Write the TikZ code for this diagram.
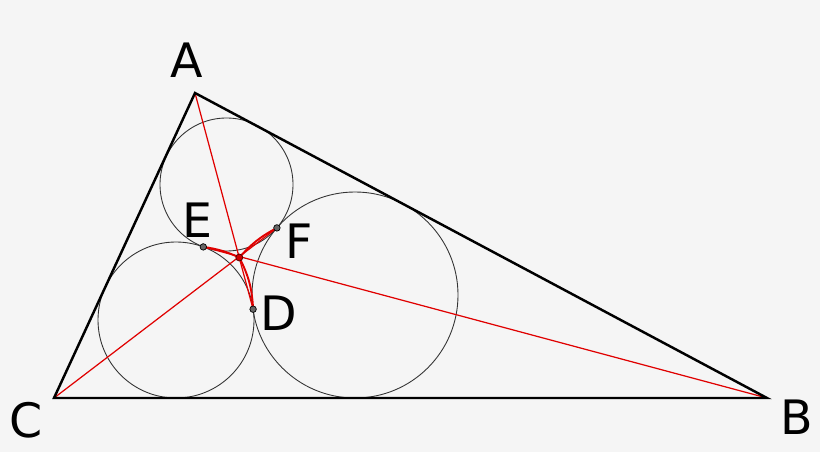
\documentclass[tikz,border=0pt]{standalone}
\usepackage{fontspec}
\setmainfont{DejaVu Sans}
\definecolor{paper}{HTML}{F5F5F5}
\definecolor{redline}{HTML}{E00000}
\definecolor{reddot}{HTML}{D00000}
\begin{document}
\begin{tikzpicture}[x=0.02cm, y=-0.02cm,
    side/.style = {draw, line width=1.4pt, line join=miter},
    malfatti/.style = {draw=black!80, line width=0.5pt},
    cevian/.style = {draw=redline, line width=0.7pt},
    arcline/.style = {draw=redline, line width=1.1pt},
    touch/.style = {circle, draw, fill=black!60, line width=0.4pt, inner sep=0pt, minimum size=0.13cm},
    meet/.style = {circle, draw=black!70!red, fill=reddot, line width=0.4pt, inner sep=0pt, minimum size=0.14cm},
    letter/.style = {inner sep=0pt, font=\fontsize{27}{30}\selectfont}]
    \fill[paper] (0,0) rectangle (820,452);

    \coordinate (A) at (195,93);
    \coordinate (B) at (767,398);
    \coordinate (C) at (54,398);
    \coordinate (O1) at (226.5,184.5);
    \coordinate (O2) at (176,320);
    \coordinate (O3) at (355,295);
    \coordinate (D) at (253.1,309.2);
    \coordinate (E) at (203.3,246.9);
    \coordinate (F) at (276.9,227.9);
    \coordinate (P) at (239.3,257.5);

    % the three circles
    \draw[malfatti] (O1) circle[radius=66.5];
    \draw[malfatti] (O2) circle[radius=78];
    \draw[malfatti] (O3) circle[radius=103];

    \draw[cevian] (A) -- (D);
    \draw[cevian] (B) -- (E);
    \draw[cevian] (C) -- (F);

    \draw[side] (A) -- (B) -- (C) -- cycle;

    \draw[arcline] (D) to[bend right=12] (P);
    \draw[arcline] (F) to[bend right=10] (P);
    \draw[arcline] (E) to[bend left=8] (P);

    \node[touch] (d) at (D) {};
    \node[touch] (e) at (E) {};
    \node[touch] (f) at (F) {};
    \node[meet] (p) at (P) {};

    \node[letter] (labA) at (187,60) {A};
    \node[letter] (labB) at (797,417) {B};
    \node[letter] (labC) at (26,420) {C};
    \node[letter] (labD) at (279,313) {D};
    \node[letter] (labE) at (197,220) {E};
    \node[letter] (labF) at (299,241) {F};
\end{tikzpicture}
\end{document}
